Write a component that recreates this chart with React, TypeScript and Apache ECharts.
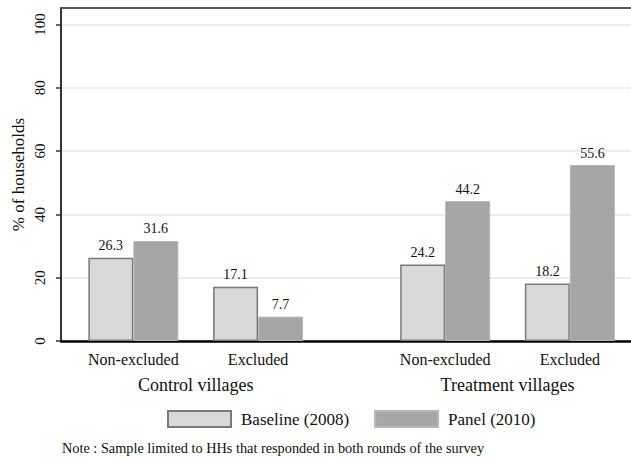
import React, { useEffect, useRef } from "react";
import * as echarts from "echarts";

const xPositions = [1, 2, 3.5, 4.5];
const categories = ["Non-excluded", "Excluded", "Non-excluded", "Excluded"];
const groupPositions = [1.5, 4];
const groups = ["Control villages", "Treatment villages"];
const baseline = [26.3, 17.1, 24.2, 18.2];
const panel = [31.6, 7.7, 44.2, 55.6];
const yTicks = [0, 20, 40, 60, 80, 100];
const seriesNames = ["Baseline (2008)", "Panel (2010)"];
const note = "Note : Sample limited to HHs that responded in both rounds of the survey";

const FONT = "Liberation Serif";
const X_MIN = 0.42;
const X_MAX = 4.99;
const Y_MAX = 105.2;

function lookup(v: number, pos: number[], names: string[]): string {
  for (let i = 0; i < pos.length; i++) {
    if (Math.abs(pos[i] - v) < 1e-6) return names[i];
  }
  return "";
}

export default function App() {
  const ref = useRef<HTMLDivElement>(null);
  useEffect(() => {
    if (!ref.current) return;
    const chart = echarts.init(ref.current, null, { renderer: "svg" });
    const labelStyle = {
      show: true,
      position: "top",
      distance: 5,
      fontFamily: FONT,
      fontSize: 14,
      color: "#111",
      formatter: (p: any) => p.value[1].toFixed(1),
    };
    chart.setOption({
      animation: false,
      backgroundColor: "#fff",
      textStyle: { fontFamily: FONT },
      grid: { left: 61, right: 0, top: 8, bottom: 118, containLabel: false },
      legend: {
        left: 167,
        top: 410,
        padding: 0,
        icon: "rect",
        itemWidth: 63,
        itemHeight: 16,
        itemGap: 25,
        data: seriesNames,
        textStyle: { fontFamily: FONT, fontSize: 17, color: "#111", padding: [0, 0, 0, 5] },
      },
      xAxis: [
        {
          type: "value",
          position: "bottom",
          min: X_MIN,
          max: X_MAX,
          axisLine: { show: true, onZero: false, lineStyle: { color: "#000", width: 2.5 } },
          axisTick: { show: false },
          splitLine: { show: false },
          axisLabel: {
            customValues: xPositions,
            margin: 10,
            fontFamily: FONT,
            fontSize: 16,
            color: "#111",
            formatter: (v: number) => lookup(v, xPositions, categories),
          },
        },
        {
          type: "value",
          position: "bottom",
          min: X_MIN,
          max: X_MAX,
          axisLine: { show: false },
          axisTick: { show: false },
          splitLine: { show: false },
          axisLabel: {
            customValues: groupPositions,
            margin: 35,
            fontFamily: FONT,
            fontSize: 18,
            color: "#111",
            formatter: (v: number) => lookup(v, groupPositions, groups),
          },
        },
        {
          type: "value",
          position: "top",
          min: X_MIN,
          max: X_MAX,
          axisLine: { show: true, onZero: false, lineStyle: { color: "#555", width: 2 } },
          axisTick: { show: false },
          axisLabel: { show: false },
          splitLine: { show: false },
        },
      ],
      yAxis: {
        type: "value",
        min: 0,
        max: Y_MAX,
        interval: 20,
        name: "% of households",
        nameLocation: "middle",
        nameGap: 34,
        nameMoveOverlap: false,
        nameTextStyle: { fontFamily: FONT, fontSize: 17, color: "#111" },
        axisLine: { show: true, lineStyle: { color: "#333", width: 2 } },
        axisTick: { show: true, customValues: yTicks, length: 5, lineStyle: { color: "#333", width: 1.5 } },
        splitLine: { show: true, lineStyle: { color: "#e6e6e6", width: 1.5 } },
        axisLabel: {
          customValues: yTicks,
          rotate: 90,
          margin: 14,
          fontFamily: FONT,
          fontSize: 15,
          color: "#111",
        },
      },
      series: [
        {
          name: seriesNames[0],
          type: "bar",
          xAxisIndex: 0,
          barWidth: 45,
          barGap: "0%",
          data: xPositions.map((x, i) => [x, baseline[i]]),
          itemStyle: { color: "#d9d9d9", borderColor: "#7a7a7a", borderWidth: 1.5 },
          label: labelStyle,
        },
        {
          name: seriesNames[1],
          type: "bar",
          xAxisIndex: 0,
          barWidth: 45,
          barGap: "0%",
          data: xPositions.map((x, i) => [x, panel[i]]),
          itemStyle: { color: "#a6a6a6", borderColor: "#b6b6b6", borderWidth: 1 },
          label: labelStyle,
        },
      ],
      graphic: [
        {
          type: "text",
          left: 62,
          top: 441,
          style: { text: note, fontFamily: FONT, fontSize: 14.3, fill: "#111" },
        },
      ],
    });
    return () => chart.dispose();
  }, []);
  return (
    <div
      ref={ref}
      style={{ position: "fixed", left: 0, top: 0, width: 631, height: 459 }}
    />
  );
}
